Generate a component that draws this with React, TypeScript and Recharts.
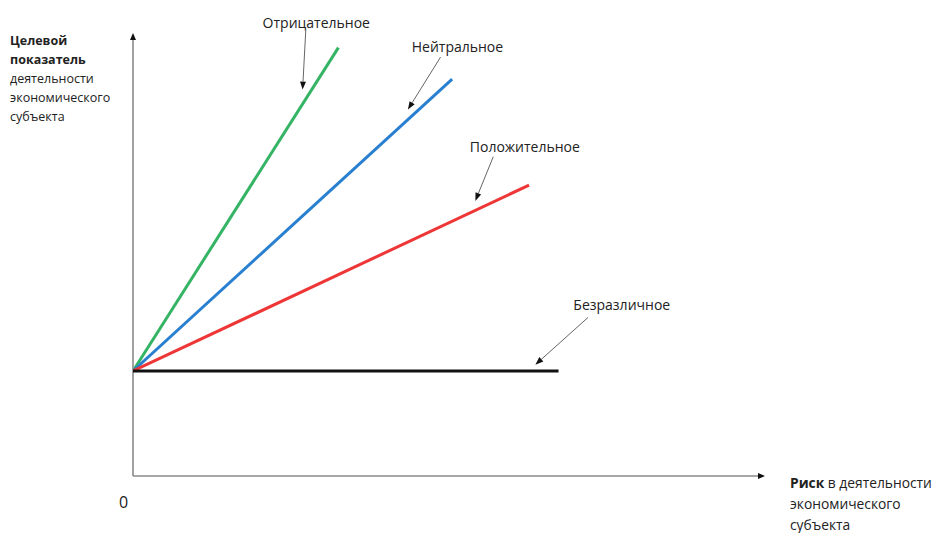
import React from 'react';
import { LineChart, Line, XAxis, YAxis, ReferenceLine, ReferenceDot } from 'recharts';

const xDomain: [number, number] = [0, 60];
const yDomain: [number, number] = [0, 42];

const negativeLine = [{ x: 0, y: 10 }, { x: 19.5, y: 40.8 }];
const neutralLine = [{ x: 0, y: 10 }, { x: 30.3, y: 37.8 }];
const positiveLine = [{ x: 0, y: 10 }, { x: 37.6, y: 27.7 }];
const indifferentLine = [{ x: 0, y: 10 }, { x: 40.4, y: 10 }];

const labelNames = ['Отрицательное', 'Нейтральное', 'Положительное', 'Безразличное'];
const labelPos = [
  { x: 17.4, y: 43.2 },
  { x: 30.8, y: 40.9 },
  { x: 37.2, y: 31.4 },
  { x: 46.4, y: 16.3 },
];
const pointerFrom = [
  { x: 16.4, y: 42.4 },
  { x: 29.2, y: 39.9 },
  { x: 34.2, y: 30.4 },
  { x: 43.2, y: 15.1 },
];
const pointerTo = [
  { x: 16.1, y: 36.8 },
  { x: 26.1, y: 34.9 },
  { x: 32.5, y: 26.2 },
  { x: 38.2, y: 10.6 },
];

const FONT = '"Open Sans", sans-serif';

const arrowShape = (lineColor: string, headColor: string, width: number, headLen: number, headW: number) =>
  (props: any) => {
    const { x1, y1, x2, y2 } = props;
    const dx = x2 - x1;
    const dy = y2 - y1;
    const len = Math.sqrt(dx * dx + dy * dy) || 1;
    const ux = dx / len;
    const uy = dy / len;
    const bx = x2 - ux * headLen;
    const by = y2 - uy * headLen;
    const px = -uy * headW / 2;
    const py = ux * headW / 2;
    return (
      <g>
        <line x1={x1} y1={y1} x2={bx} y2={by} stroke={lineColor} strokeWidth={width} />
        <polygon points={`${x2},${y2} ${bx + px},${by + py} ${bx - px},${by - py}`} fill={headColor} />
      </g>
    );
  };

const textShape = (text: string) => (props: any) => (
  <text
    x={props.cx}
    y={props.cy}
    textAnchor="middle"
    dominantBaseline="central"
    fontFamily={FONT}
    fontSize={14}
    fill="#222"
  >
    {text}
  </text>
);

export default function App() {
  return (
    <div style={{ position: 'absolute', left: 0, top: 0, width: 942, height: 533, background: '#fff', overflow: 'hidden' }}>
      <LineChart width={942} height={533} margin={{ left: 133, top: 35, right: 177, bottom: 57 }}>
        <XAxis type="number" dataKey="x" domain={xDomain} hide allowDataOverflow />
        <YAxis type="number" dataKey="y" domain={yDomain} hide allowDataOverflow />
        <ReferenceLine
          segment={[{ x: 0, y: 0 }, { x: 60, y: 0 }]}
          ifOverflow="visible"
          shape={arrowShape('#8a8a8a', '#111', 1.6, 7, 6)}
        />
        <ReferenceLine
          segment={[{ x: 0, y: 0 }, { x: 0, y: 42.2 }]}
          ifOverflow="visible"
          shape={arrowShape('#8a8a8a', '#111', 1.6, 7, 6)}
        />
        <Line data={negativeLine} dataKey="y" stroke="#34b464" strokeWidth={3} dot={false} isAnimationActive={false} />
        <Line data={neutralLine} dataKey="y" stroke="#2a80d0" strokeWidth={3} dot={false} isAnimationActive={false} />
        <Line data={positiveLine} dataKey="y" stroke="#ee3636" strokeWidth={3} dot={false} isAnimationActive={false} />
        <Line data={indifferentLine} dataKey="y" stroke="#111" strokeWidth={3} dot={false} isAnimationActive={false} />
        {labelNames.map((name, i) => (
          <ReferenceLine
            key={'p' + i}
            segment={[pointerFrom[i], pointerTo[i]]}
            ifOverflow="visible"
            shape={arrowShape('#666', '#111', 1, 8, 6)}
          />
        ))}
        {labelNames.map((name, i) => (
          <ReferenceDot
            key={'l' + i}
            x={labelPos[i].x}
            y={labelPos[i].y}
            r={0}
            ifOverflow="visible"
            shape={textShape(name)}
          />
        ))}
      </LineChart>
      <div
        style={{
          position: 'absolute',
          left: 10,
          top: 31,
          fontFamily: FONT,
          fontSize: 12.5,
          lineHeight: '19px',
          color: '#222',
        }}
      >
        <b>Целевой</b>
        <br />
        <b>показатель</b>
        <br />
        деятельности
        <br />
        экономического
        <br />
        субъекта
      </div>
      <div
        style={{
          position: 'absolute',
          left: 790,
          top: 472,
          fontFamily: FONT,
          fontSize: 13.8,
          lineHeight: '21px',
          color: '#222',
          whiteSpace: 'nowrap',
        }}
      >
        <b>Риск</b> в деятельности
        <br />
        экономического
        <br />
        субъекта
      </div>
      <div
        style={{
          position: 'absolute',
          left: 119,
          top: 491,
          fontFamily: FONT,
          fontSize: 16,
          lineHeight: '22px',
          color: '#222',
        }}
      >
        0
      </div>
    </div>
  );
}
